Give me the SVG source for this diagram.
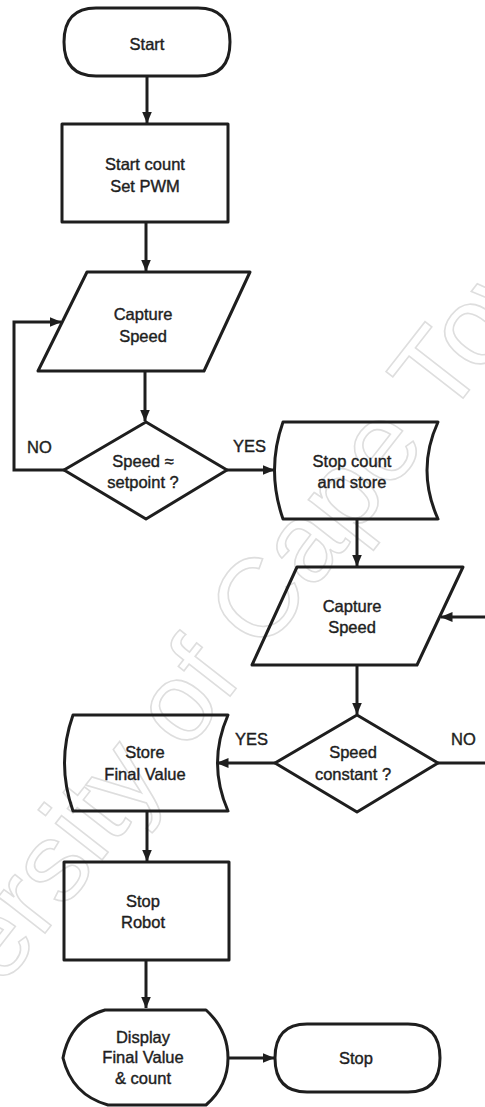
<svg xmlns="http://www.w3.org/2000/svg" width="485" height="1107" viewBox="0 0 485 1107">
  <defs>
    <marker id="arrow" markerUnits="userSpaceOnUse" markerWidth="12" markerHeight="10" refX="11.5" refY="5" orient="auto">
      <path d="M0,0 L12,5 L0,10 Z" fill="#1e1e1e"/>
    </marker>
    <style>
      .shape { fill: none; stroke: #1e1e1e; stroke-width: 3; stroke-linejoin: round; }
      .edge { fill: none; stroke: #1e1e1e; stroke-width: 3; }
      .lbl { font-family: "Liberation Sans", Arial, sans-serif; font-size: 16.5px; fill: #1e1e1e; stroke: #1e1e1e; stroke-width: 0.4; text-anchor: middle; }
      .tag { font-family: "Liberation Sans", Arial, sans-serif; font-size: 16.5px; fill: #1e1e1e; stroke: #1e1e1e; stroke-width: 0.4; }
      .wm { font-family: "Liberation Sans", Arial, sans-serif; font-size: 112px; fill: none; stroke: #dedede; stroke-width: 1.6; }
    </style>
  </defs>
  <rect width="485" height="1107" fill="#fff"/>

  <!-- background stamp -->
  <text class="wm" x="235" y="690" text-anchor="middle" transform="rotate(-52 235 690)">University of Cape Town</text>

  <!-- connectors -->
  <g id="connectors">
    <line class="edge" x1="147" y1="76" x2="147" y2="123" marker-end="url(#arrow)"/>
    <line class="edge" x1="146" y1="222" x2="146" y2="271" marker-end="url(#arrow)"/>
    <line class="edge" x1="145" y1="371" x2="145" y2="421" marker-end="url(#arrow)"/>
    <polyline class="edge" points="65,470 14,470 14,322 61,322" marker-end="url(#arrow)"/>
    <line class="edge" x1="227" y1="470" x2="274" y2="470" marker-end="url(#arrow)"/>
    <line class="edge" x1="357" y1="519" x2="357" y2="566" marker-end="url(#arrow)"/>
    <line class="edge" x1="486" y1="617" x2="441" y2="617" marker-end="url(#arrow)"/>
    <line class="edge" x1="357" y1="665" x2="357" y2="714" marker-end="url(#arrow)"/>
    <line class="edge" x1="438" y1="763" x2="486" y2="763"/>
    <line class="edge" x1="275" y1="763" x2="217" y2="763" marker-end="url(#arrow)"/>
    <line class="edge" x1="147" y1="811" x2="147" y2="861" marker-end="url(#arrow)"/>
    <line class="edge" x1="146" y1="960" x2="146" y2="1008" marker-end="url(#arrow)"/>
    <line class="edge" x1="227" y1="1058" x2="274" y2="1058" marker-end="url(#arrow)"/>
    <text class="tag" x="27" y="453">NO</text>
    <text class="tag" x="233" y="452">YES</text>
    <text class="tag" x="235" y="745">YES</text>
    <text class="tag" x="451" y="745">NO</text>
  </g>

  <g id="start">
    <path class="shape" d="M96,8 H198 Q230,8 230,42 Q230,76 198,76 H96 Q64,76 64,42 Q64,8 96,8 Z"/>
    <text class="lbl" x="147" y="50">Start</text>
  </g>

  <g id="start-count">
    <rect class="shape" x="62" y="124" width="166" height="98"/>
    <text class="lbl" x="145" y="170">Start count</text>
    <text class="lbl" x="145" y="192">Set PWM</text>
  </g>

  <g id="capture-speed-1">
    <polygon class="shape" points="87,272 250,272 204,371 38,371"/>
    <text class="lbl" x="143" y="320">Capture</text>
    <text class="lbl" x="143" y="342">Speed</text>
  </g>

  <g id="speed-setpoint">
    <polygon class="shape" points="146,422 227,470 146,519 64,470"/>
    <text class="lbl" x="143" y="467">Speed ≈</text>
    <text class="lbl" x="143" y="488">setpoint ?</text>
  </g>

  <g id="stop-count">
    <path class="shape" d="M283,422 H438 Q416,470 438,519 H283 Q266,470 283,422 Z"/>
    <text class="lbl" x="352" y="467">Stop count</text>
    <text class="lbl" x="352" y="488">and store</text>
  </g>

  <g id="capture-speed-2">
    <polygon class="shape" points="297,567 463,567 417,665 252,665"/>
    <text class="lbl" x="352" y="612">Capture</text>
    <text class="lbl" x="352" y="633">Speed</text>
  </g>

  <g id="speed-constant">
    <polygon class="shape" points="357,715 438,763 357,812 275,763"/>
    <text class="lbl" x="353" y="758">Speed</text>
    <text class="lbl" x="353" y="780">constant ?</text>
  </g>

  <g id="store-final">
    <path class="shape" d="M73,715 H228 Q207,763 228,811 H73 Q56,763 73,715 Z"/>
    <text class="lbl" x="145" y="758">Store</text>
    <text class="lbl" x="145" y="780">Final Value</text>
  </g>

  <g id="stop-robot">
    <rect class="shape" x="64" y="862" width="165" height="98"/>
    <text class="lbl" x="143" y="907">Stop</text>
    <text class="lbl" x="143" y="928">Robot</text>
  </g>

  <g id="display">
    <path class="shape" d="M105,1010 H206 Q228,1030 228,1058 Q228,1086 206,1105 H108 Q72,1095 63,1058 Q70,1020 105,1010 Z"/>
    <text class="lbl" x="143" y="1043">Display</text>
    <text class="lbl" x="143" y="1063">Final Value</text>
    <text class="lbl" x="143" y="1084">&amp; count</text>
  </g>

  <g id="stop">
    <path class="shape" d="M307,1024 H408 Q440,1024 440,1058 Q440,1092 408,1092 H307 Q275,1092 275,1058 Q275,1024 307,1024 Z"/>
    <text class="lbl" x="356" y="1064">Stop</text>
  </g>
</svg>
